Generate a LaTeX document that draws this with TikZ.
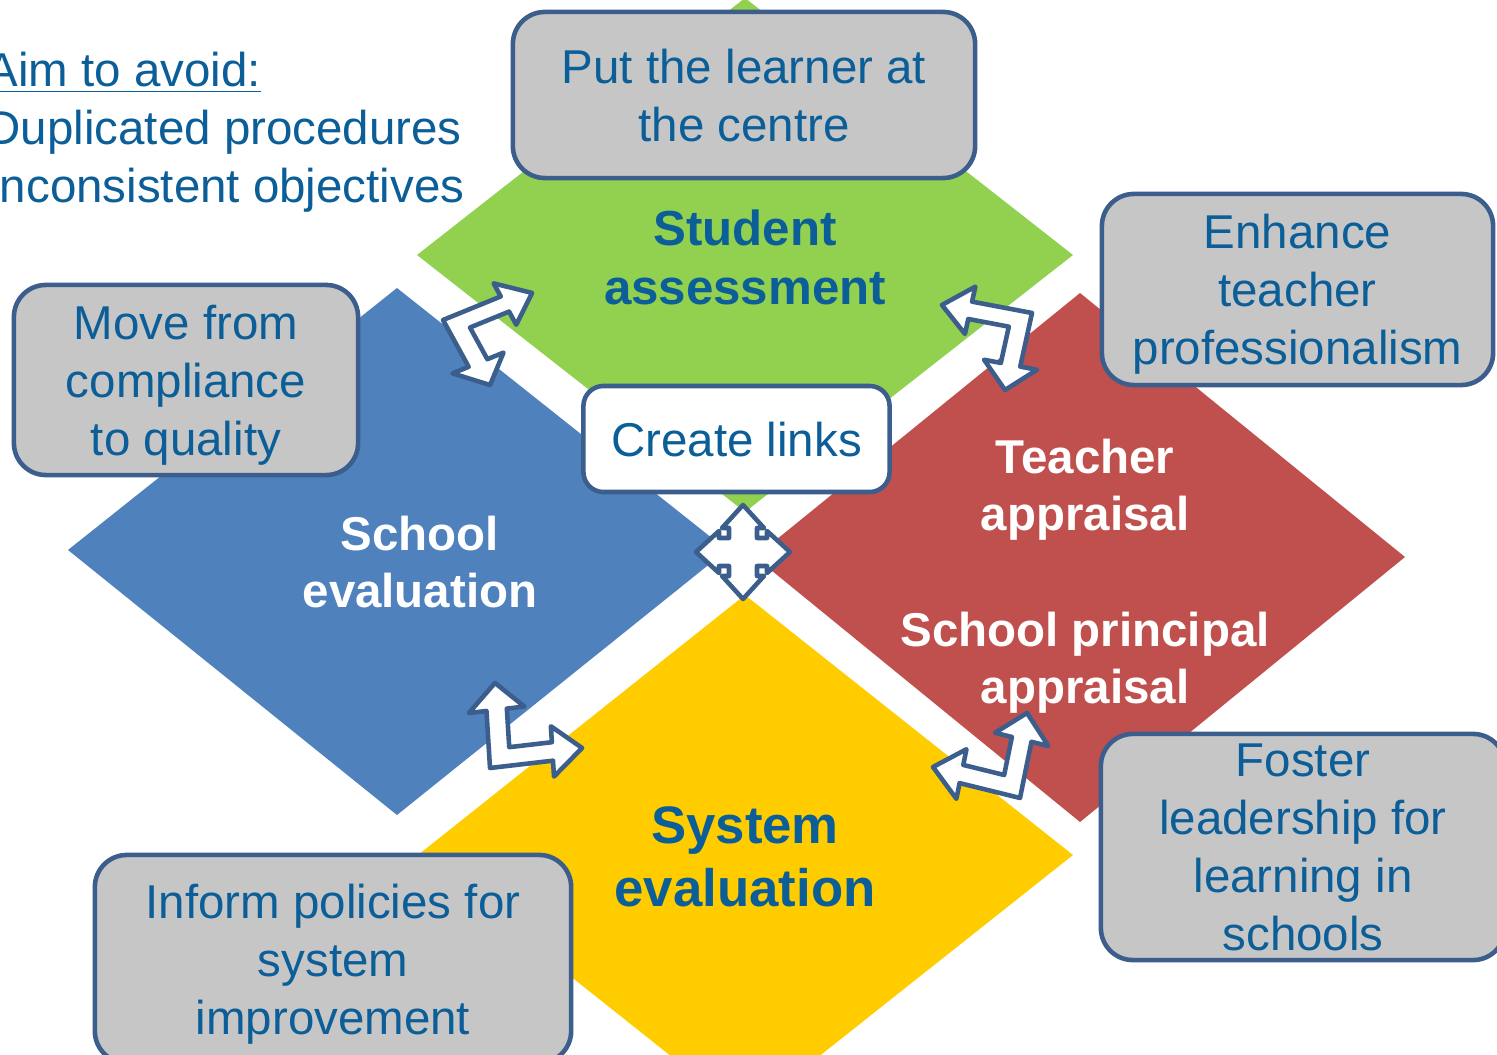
\documentclass[tikz,border=0pt]{standalone}
\usepackage{fontspec}
\setmainfont{Liberation Sans}
\usepackage{xcolor}
\usepackage{tikz}

\definecolor{sagreen}{HTML}{92D050}
\definecolor{seblue}{HTML}{4F81BD}
\definecolor{tared}{HTML}{C0504D}
\definecolor{syyellow}{HTML}{FFCC00}
\definecolor{boxgray}{HTML}{C6C6C6}
\definecolor{boxedge}{HTML}{3B5E8C}
\definecolor{txtblue}{HTML}{0B5E97}

% L-shaped double arrow: #1 outer corner, #2 and #3 the two arm vectors
\newcommand{\bentarrow}[3]{%
  \begin{scope}[shift={#1}, x={#2}, y={#3}]
    \draw[arrowshape] (0,0) -- (0.68,0) -- (0.68,-0.19) -- (1,0.11)
      -- (0.68,0.41) -- (0.68,0.22) -- (0.22,0.22) -- (0.22,0.68)
      -- (0.41,0.68) -- (0.11,1) -- (-0.19,0.68) -- (0,0.68) -- cycle;
  \end{scope}}

\begin{document}
\begin{tikzpicture}[
    x=0.01cm, y=-0.01cm,
    boxfont/.style={font=\fontsize{13.5}{16.5}\selectfont},
    graybox/.style={
        rectangle,
        rounded corners=0.32cm,
        draw=boxedge,
        fill=boxgray,
        line width=1.3pt,
        text=txtblue,
        align=center,
        text depth=0pt,
        inner sep=0pt,
        boxfont
    },
    linkbox/.style={
        graybox,
        fill=white,
        rounded corners=0.2cm
    },
    lbldark/.style={
        text=txtblue,
        align=center,
        font=\fontsize{14}{16.8}\selectfont\bfseries
    },
    lblwhite/.style={
        lbldark,
        text=white,
        font=\fontsize{13.5}{16.2}\selectfont\bfseries
    },
    arrowshape/.style={
        draw=boxedge,
        fill=white,
        line width=1.3pt,
        line join=round
    }
]
\useasboundingbox (0,0) rectangle (1497,1055);

% --- Diamonds ----------------------------------------------------------------

\fill[sagreen]  (745,-2)  -- (1073,255) -- (745,512)  -- (417,255) -- cycle;
\fill[seblue]   (397,288) -- (727,550)  -- (397,815)  -- (68,550)  -- cycle;
\fill[tared]    (1080,293) -- (1405,557) -- (1080,822) -- (755,557) -- cycle;
\fill[syyellow] (745,595) -- (1073,855) -- (745,1115) -- (418,855) -- cycle;

\node[lbldark] (student) at (745,257) {Student\\assessment};
\node[lblwhite] (school) at (420,562) {School\\evaluation};
\node[lblwhite] (teacher) at (1085,490) {Teacher\\appraisal};
\node[lblwhite] (principal) at (1085,663) {School principal\\appraisal};
\node[lbldark, font=\fontsize{15}{17.9}\selectfont\bfseries] (system) at (745,857) {System\\evaluation};

% --- Block arrows ------------------------------------------------------------

\bentarrow{(443,320)}{(0.849cm,0.346cm)}{(0.377cm,-0.688cm)}
\bentarrow{(1032,313)}{(-0.881cm,0.167cm)}{(-0.173cm,-0.788cm)}
\bentarrow{(490,768)}{(0.926cm,0.108cm)}{(-0.052cm,0.838cm)}
\bentarrow{(1020,798)}{(-0.888cm,0.219cm)}{(0.168cm,0.826cm)}

\begin{scope}[shift={(743,552)}]
    \draw[arrowshape] (14,-14) -- (14,-24) -- (21,-24) -- (0,-47) -- (-21,-24)
        -- (-14,-24) -- (-14,-14) -- (-24,-14) -- (-24,-21) -- (-47,0)
        -- (-24,21) -- (-24,14) -- (-14,14) -- (-14,24) -- (-21,24) -- (0,47)
        -- (21,24) -- (14,24) -- (14,14) -- (24,14) -- (24,21) -- (47,0)
        -- (24,-21) -- (24,-14) -- cycle;
\end{scope}

% --- Boxes -------------------------------------------------------------------

\node[graybox, minimum width=4.62cm, minimum height=1.66cm] (learner) at (744,95)
    {Put the learner at\\the centre};
\node[graybox, minimum width=3.91cm, minimum height=1.91cm] (prof) at (1297.5,289.5)
    {Enhance\\teacher\\professionalism};
\node[graybox, minimum width=3.44cm, minimum height=1.90cm] (quality) at (186,380)
    {Move from\\compliance\\to quality};
\node[linkbox, minimum width=3.06cm, minimum height=1.06cm] (links) at (736.5,439)
    {Create links};
\node[graybox, minimum width=4.04cm, minimum height=2.26cm] (leader) at (1303,847)
    {Foster\\leadership for\\learning in\\schools};
\node[graybox, minimum width=4.76cm, minimum height=2.08cm] (policy) at (333,959)
    {Inform policies for\\system\\improvement};

% --- Aims --------------------------------------------------------------------

\node[boxfont, text=txtblue, align=left, inner sep=0pt, anchor=north west] (avoid) at (-14,51)
    {\underline{Aim to avoid:}\\Duplicated procedures\\Inconsistent objectives};

\end{tikzpicture}
\end{document}
